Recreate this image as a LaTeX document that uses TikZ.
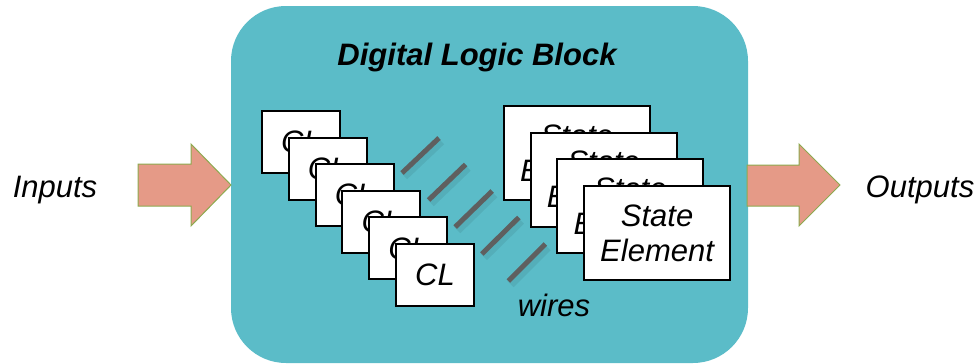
\documentclass[tikz,border=0pt]{standalone}
\usepackage{fontspec}
\setmainfont{Liberation Sans}
\definecolor{blockteal}{HTML}{5BBCC8}
\definecolor{arrowfill}{HTML}{E59A87}
\definecolor{arrowline}{HTML}{8DAA4F}
\definecolor{wiregray}{HTML}{5F5F5F}
\begin{document}
\begin{tikzpicture}[x=1pt, y=-1pt,
    font=\fontsize{31}{35}\selectfont\itshape,
    clbox/.style={draw=black, line width=2pt, fill=white, minimum width=78pt, minimum height=62pt, inner sep=0pt},
    statebox/.style={draw=black, line width=2pt, fill=white, minimum width=146pt, minimum height=94pt, inner sep=0pt, align=center},
    bigarrow/.style={fill=arrowfill, draw=arrowline, line width=1pt},
    wire/.style={draw=wiregray, line width=5pt}]
\useasboundingbox (0,0) rectangle (980,364);

% Block background
\fill[blockteal, rounded corners=55pt] (231,6) rectangle (748,363);
\node[anchor=base, font=\fontsize{31}{35}\selectfont\bfseries\itshape] (title) at (477,65) {Digital Logic Block};

% Input and output arrows
\draw[bigarrow] (138,164) -- (191,164) -- (191,144) -- (231,185) -- (191,226) -- (191,206) -- (138,206) -- cycle;
\draw[bigarrow] (747,165) -- (799,165) -- (799,144) -- (840,185) -- (799,226) -- (799,206) -- (747,206) -- cycle;
\node[anchor=base] (inputs) at (55,197) {Inputs};
\node[anchor=base] (outputs) at (920,197) {Outputs};

% Stack of combinational logic
\foreach \i in {0,...,5} {
    \node[clbox] (cl\i) at (301+26.8*\i, 142+26.6*\i) {CL};
}

% Wires (with a faint shadow)
\foreach \i in {0,...,4} {
    \coordinate (wa\i) at (402+26.6*\i, 173+27*\i);
    \coordinate (wb\i) at (439+26.6*\i, 138+26.5*\i);
    \draw[black, opacity=0.07, line width=9pt] ([shift={(2,3)}]wa\i) -- ([shift={(2,3)}]wb\i);
    \draw[wire] (wa\i) -- (wb\i);
}
\node[anchor=base] (wires) at (554,316) {wires};

% Stack of state elements
\foreach \i in {0,...,3} {
    \node[statebox] (se\i) at (577+26.7*\i, 153+26.7*\i) {State\\Element};
}

\end{tikzpicture}
\end{document}
